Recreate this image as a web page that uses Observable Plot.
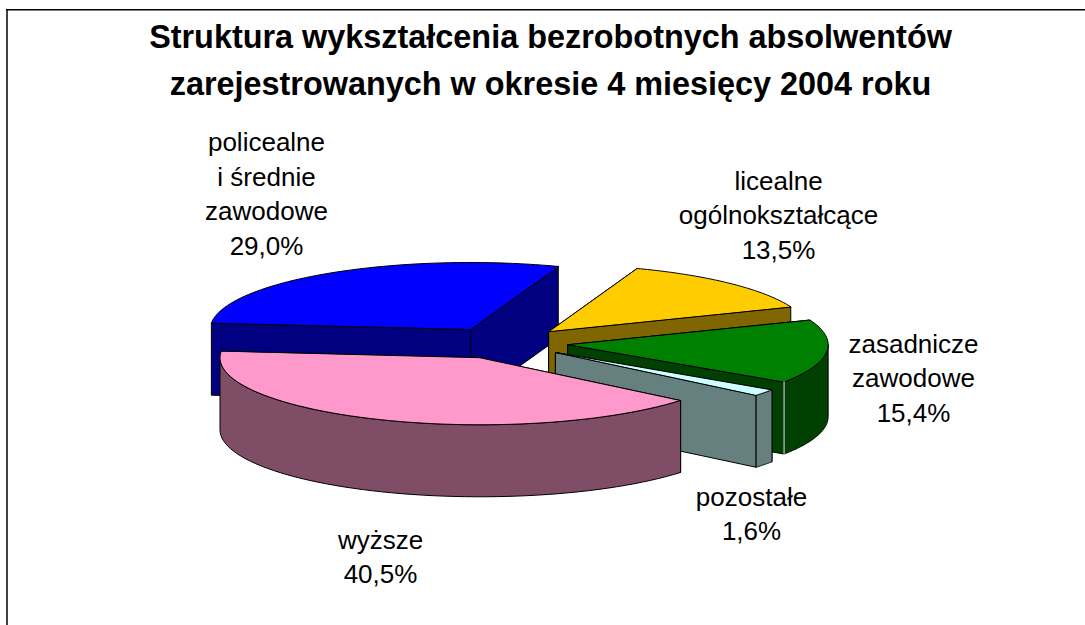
<!DOCTYPE html>
<html lang="pl">
<head>
<meta charset="utf-8">
<script src="https://cdn.jsdelivr.net/npm/d3@7"></script>
<script src="https://cdn.jsdelivr.net/npm/@observablehq/plot@0.6"></script>
<style>html,body{margin:0;padding:0;background:#fff}svg{display:block}</style>
</head>
<body>
<div id="chart"></div>
<script>
const categories = ["policealne i średnie zawodowe", "licealne ogólnokształcące", "zasadnicze zawodowe", "pozostałe", "wyższe"];
const shares = [29.0, 13.5, 15.4, 1.6, 40.5];
const topColors = ["#0000FF", "#FFCC00", "#008000", "#CCFFFF", "#FF99CC"];
const sideColors = ["#000080", "#806600", "#004000", "#668080", "#804D66"];
const labelLines = [
  ["policealne", "i średnie", "zawodowe", "29,0%"],
  ["licealne", "ogólnokształcące", "13,5%"],
  ["zasadnicze", "zawodowe", "15,4%"],
  ["pozostałe", "1,6%"],
  ["wyższe", "40,5%"]
];
const labelAnchors = [[266, 142.5], [778, 181], [913, 344], [751, 497], [380, 540]];
const titleLines = ["Struktura wykształcenia bezrobotnych absolwentów", "zarejestrowanych w okresie 4 miesięcy 2004 roku"];

const pie = {cx: 504, cy: 342.5, rx: 260, ry: 67, ex: 64, ey: 16, depth: 72, start: -84.6};
const rad = d => d * Math.PI / 180;
const total = d3.sum(shares);
let acc = pie.start;
const slices = shares.map((v, i) => {
  const a0 = acc, a1 = acc + v / total * 360;
  acc = a1;
  const mid = rad((a0 + a1) / 2);
  return {i, a0, a1, ax: pie.cx + pie.ex * Math.sin(mid), ay: pie.cy - pie.ey * Math.cos(mid)};
});
const pt = (s, a) => [s.ax + pie.rx * Math.sin(rad(a)), s.ay - pie.ry * Math.cos(rad(a))];
const arc = (s, a0, a1) => d3.range(0, 61).map(k => pt(s, a0 + (a1 - a0) * k / 60));

const polys = [];
let id = 0;
const add = (points, fill) => {
  id++;
  points.forEach(p => polys.push({x: p[0], y: p[1], id, fill}));
};
const down = p => [p[0], p[1] + pie.depth];
for (const s of slices) {
  const side = sideColors[s.i], top = topColors[s.i], apex = [s.ax, s.ay];
  const ends = [pt(s, s.a0), pt(s, s.a1)].sort((a, b) => a[1] - b[1]);
  for (const e of ends) add([apex, e, down(e), down(apex)], side);
  const f0 = Math.max(s.a0, 90), f1 = Math.min(s.a1, 270);
  if (f1 > f0) {
    const front = arc(s, f0, f1);
    add([...front, ...front.map(down).reverse()], side);
  }
  add([apex, ...arc(s, s.a0, s.a1)], top);
}
// light edge at the front corner of the green slice
const g = slices[2], gEnd = pt(g, g.a1);
const greenEdge = [{x: gEnd[0], y: gEnd[1]}, {x: gEnd[0], y: gEnd[1] + pie.depth}];

const labels = labelLines.flatMap((lines, i) =>
  lines.map((t, j) => ({t, x: labelAnchors[i][0], y: labelAnchors[i][1] + j * 34.4})));
const titleRows = titleLines.map((t, j) => ({t, x: 550, y: 37 + j * 47}));

const chart = Plot.plot({
  width: 1085, height: 625,
  margin: 0,
  axis: null,
  x: {type: "identity", axis: null}, y: {type: "identity", axis: null},
  style: {background: "#fff"},
  marks: [
    Plot.ruleX([6.5], {y1: 9, y2: 625, stroke: "#404040", strokeWidth: 2}),
    Plot.ruleY([9.3], {x1: 6, x2: 1085, stroke: "#000", strokeWidth: 1.6}),
    Plot.line(polys, {x: "x", y: "y", z: "id", fill: d => d.fill, stroke: "#000", strokeWidth: 1, curve: "linear-closed"}),
    Plot.line(greenEdge, {x: "x", y: "y", stroke: "#aaa", strokeWidth: 1.5}),
    Plot.text(titleRows, {x: "x", y: "y", text: "t", fontFamily: "Liberation Sans", fontWeight: "bold", fontSize: 32.4, fill: "#000"}),
    Plot.text(labels, {x: "x", y: "y", text: "t", fontFamily: "Liberation Sans", fontSize: 26, fill: "#000"})
  ]
});
document.getElementById("chart").append(chart);
</script>
</body>
</html>
